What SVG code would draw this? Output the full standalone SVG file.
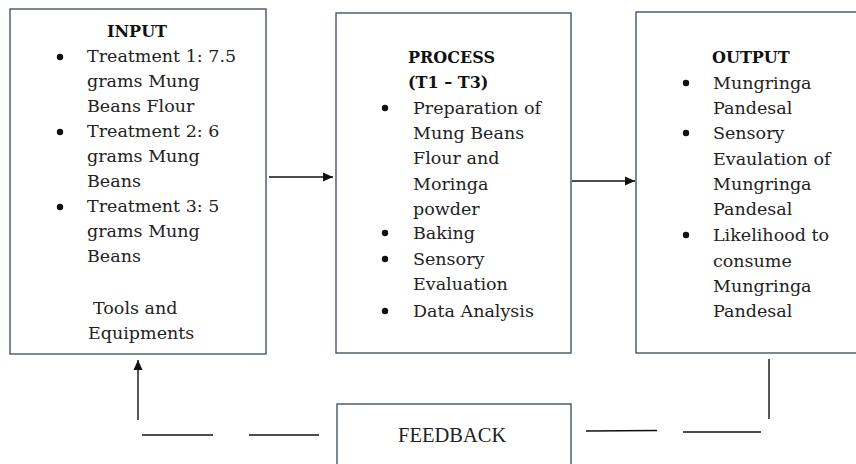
<svg xmlns="http://www.w3.org/2000/svg" width="856" height="464" viewBox="0 0 856 464">
<style>
.box{fill:#fff;stroke:#44546a;stroke-width:1.4}
.t{font-family:"DejaVu Serif","Liberation Serif",serif;font-size:17.5px;fill:#222}
.h{font-family:"DejaVu Serif","Liberation Serif",serif;font-size:16px;font-weight:bold;fill:#111}
.fb{font-family:"Liberation Serif","Times New Roman",serif;font-size:20.5px;fill:#222}
.b{fill:#111}
.c{stroke:#111;stroke-width:1.4;fill:none}
</style>
<defs>
<marker id="ah" viewBox="0 0 10 10" refX="10" refY="5" markerWidth="10" markerHeight="10" markerUnits="userSpaceOnUse" orient="auto">
<path d="M0,0.5 L10,5 L0,9.5 z" fill="#111"/>
</marker>
</defs>
<rect width="856" height="464" fill="#fff"/>
<g id="input">
<rect class="box" x="10" y="9" width="256" height="345"/>
<text class="h" x="107" y="37">INPUT</text>
<circle class="b" cx="60" cy="57" r="3.2"/>
<circle class="b" cx="60" cy="132" r="3.2"/>
<circle class="b" cx="60" cy="207" r="3.2"/>
<text class="t" x="87" y="62">Treatment 1: 7.5</text>
<text class="t" x="87" y="87">grams Mung</text>
<text class="t" x="87" y="112">Beans Flour</text>
<text class="t" x="87" y="137">Treatment 2: 6</text>
<text class="t" x="87" y="162">grams Mung</text>
<text class="t" x="87" y="187">Beans</text>
<text class="t" x="87" y="212">Treatment 3: 5</text>
<text class="t" x="87" y="237">grams Mung</text>
<text class="t" x="87" y="262">Beans</text>
<text class="t" x="93" y="314">Tools and</text>
<text class="t" x="88" y="339">Equipments</text>
</g>
<g id="process">
<rect class="box" x="336" y="13" width="235" height="340"/>
<text class="h" x="408" y="63">PROCESS</text>
<text class="h" x="408" y="88">(T1 – T3)</text>
<circle class="b" cx="385" cy="108" r="3.2"/>
<circle class="b" cx="385" cy="233" r="3.2"/>
<circle class="b" cx="385" cy="259" r="3.2"/>
<circle class="b" cx="385" cy="311" r="3.2"/>
<text class="t" x="413" y="114">Preparation of</text>
<text class="t" x="413" y="139">Mung Beans</text>
<text class="t" x="413" y="164">Flour and</text>
<text class="t" x="413" y="190">Moringa</text>
<text class="t" x="413" y="215">powder</text>
<text class="t" x="413" y="239">Baking</text>
<text class="t" x="413" y="265">Sensory</text>
<text class="t" x="413" y="290">Evaluation</text>
<text class="t" x="413" y="317">Data Analysis</text>
</g>
<g id="output">
<rect class="box" x="636" y="12" width="230" height="341"/>
<text class="h" x="712" y="63">OUTPUT</text>
<circle class="b" cx="686" cy="83" r="3.2"/>
<circle class="b" cx="686" cy="133" r="3.2"/>
<circle class="b" cx="686" cy="235" r="3.2"/>
<text class="t" x="713" y="89">Mungringa</text>
<text class="t" x="713" y="114">Pandesal</text>
<text class="t" x="713" y="139">Sensory</text>
<text class="t" x="713" y="165">Evaulation of</text>
<text class="t" x="713" y="190">Mungringa</text>
<text class="t" x="713" y="215">Pandesal</text>
<text class="t" x="713" y="241">Likelihood to</text>
<text class="t" x="713" y="267">consume</text>
<text class="t" x="713" y="292">Mungringa</text>
<text class="t" x="713" y="317">Pandesal</text>
</g>
<g id="feedback">
<rect class="box" x="337" y="404" width="234" height="70"/>
<text class="fb" x="398" y="442">FEEDBACK</text>
</g>
<g id="connectors">
<line class="c" x1="269" y1="177" x2="333" y2="177" marker-end="url(#ah)"/>
<line class="c" x1="572" y1="181" x2="635" y2="181" marker-end="url(#ah)"/>
<line class="c" x1="769" y1="359" x2="769" y2="419"/>
<line class="c" x1="683" y1="432" x2="761" y2="432"/>
<line class="c" x1="586" y1="431" x2="657" y2="430.5"/>
<line class="c" x1="249" y1="435" x2="319" y2="435"/>
<line class="c" x1="142" y1="435" x2="213" y2="435"/>
<line class="c" x1="138" y1="420" x2="138" y2="360" marker-end="url(#ah)"/>
</g>
</svg>
